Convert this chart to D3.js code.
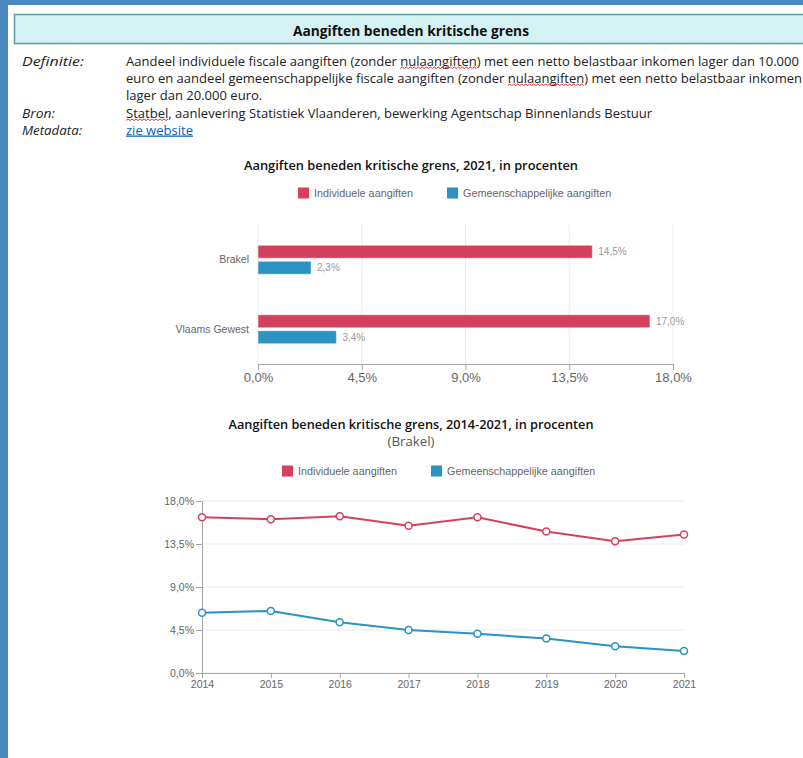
<!DOCTYPE html>
<html>
<head>
<meta charset="utf-8">
<script src="https://cdn.jsdelivr.net/npm/d3@7"></script>
<style>
html,body{margin:0;padding:0;background:#fff;}
svg{display:block;}
</style>
</head>
<body>
<svg id="chart" width="803" height="758"></svg>
<script>
// ---------- data ----------
const seriesNames = ["Individuele aangiften", "Gemeenschappelijke aangiften"];
const seriesColors = ["#d6405f", "#2b92c1"];

const barCategories = ["Brakel", "Vlaams Gewest"];
const barIndividuele = [14.5, 17.0];
const barGemeenschappelijk = [2.3, 3.4];
const barTicks = [0, 4.5, 9, 13.5, 18];

const years = [2014, 2015, 2016, 2017, 2018, 2019, 2020, 2021];
const lineIndividuele = [16.3, 16.1, 16.4, 15.4, 16.3, 14.8, 13.8, 14.5];
const lineGemeenschappelijk = [6.3, 6.5, 5.3, 4.5, 4.1, 3.6, 2.8, 2.3];
const lineTicks = [0, 4.5, 9, 13.5, 18];

const pageTitle = "Aangiften beneden kritische grens";
const barTitle = "Aangiften beneden kritische grens, 2021, in procenten";
const lineTitle = "Aangiften beneden kritische grens, 2014-2021, in procenten";
const lineSubtitle = "(Brakel)";
const metaLabels = ["Definitie:", "", "", "Bron:", "Metadata:"];
const metaTexts = [
  "Aandeel individuele fiscale aangiften (zonder nulaangiften) met een netto belastbaar inkomen lager dan 10.000",
  "euro en aandeel gemeenschappelijke fiscale aangiften (zonder nulaangiften) met een netto belastbaar inkomen",
  "lager dan 20.000 euro.",
  "Statbel, aanlevering Statistiek Vlaanderen, bewerking Agentschap Binnenlands Bestuur",
  "zie website"
];
const misspelled = ["nulaangiften", "Statbel"];

const fmt = d => d.toFixed(1).replace(".", ",") + "%";

// ---------- page ----------
const svg = d3.select("#chart");
const hdrFont = "'Open Sans', 'Noto Sans', sans-serif";
const chartFont = "'Liberation Sans', Arial, sans-serif";

svg.append("rect").attr("x", 0).attr("y", 0).attr("width", 803).attr("height", 758).attr("fill", "#4a89c0");
svg.append("rect").attr("x", 8).attr("y", 5).attr("width", 800).attr("height", 760).attr("fill", "#fff");

svg.append("rect").attr("x", 14.5).attr("y", 14.5).attr("width", 800).attr("height", 29)
  .attr("fill", "#d4f1f3").attr("stroke", "#5a9e9b").attr("stroke-width", 1.5);
svg.append("text").attr("x", 411).attr("y", 35.5).attr("text-anchor", "middle")
  .attr("font-family", hdrFont).attr("font-weight", 700).attr("font-size", 14)
  .attr("textLength", 236).attr("lengthAdjust", "spacingAndGlyphs")
  .attr("fill", "#111").text(pageTitle);

// meta block
const metaY = [65.5, 82.5, 100, 117.5, 134.5];
const labelW = {"Definitie:": 62, "Bron:": 33, "Metadata:": 60};
// horizontal condensation ratio derived from first line's target width (674px)
const probe = svg.append("text").attr("font-family", hdrFont).attr("font-size", 12.5).text(metaTexts[0]);
const ratio = 673 / probe.node().getComputedTextLength();
probe.remove();

metaLabels.forEach((l, i) => {
  if (!l) return;
  svg.append("text").attr("x", 22).attr("y", metaY[i])
    .attr("font-family", hdrFont).attr("font-style", "italic").attr("font-size", 12.5)
    .attr("textLength", labelW[l]).attr("lengthAdjust", "spacingAndGlyphs")
    .attr("fill", "#222").text(l);
});
metaTexts.forEach((t, i) => {
  const isLink = i === 4;
  const el = svg.append("text").attr("x", 126).attr("y", metaY[i])
    .attr("font-family", hdrFont).attr("font-size", 12.5)
    .attr("fill", isLink ? "#0563c1" : "#222")
    .attr("text-decoration", isLink ? "underline" : null)
    .text(t);
  el.attr("textLength", el.node().getComputedTextLength() * ratio).attr("lengthAdjust", "spacingAndGlyphs");
  // red wavy spell-check underline
  misspelled.forEach(w => {
    let idx = t.indexOf(w);
    while (idx >= 0) {
      const node = el.node();
      try {
        const x0 = node.getStartPositionOfChar(idx).x;
        const x1 = node.getEndPositionOfChar(idx + w.length - 1).x;
        let p = "M" + x0 + "," + (metaY[i] + 3);
        let up = true;
        for (let x = x0 + 2; x <= x1; x += 2) { p += "L" + x + "," + (metaY[i] + (up ? 1.5 : 3)); up = !up; }
        svg.append("path").attr("d", p).attr("fill", "none").attr("stroke", "#e02020").attr("stroke-width", 0.9);
      } catch (e) {}
      idx = t.indexOf(w, idx + 1);
    }
  });
});

// ---------- legend helper ----------
function legend(x0, x1, y) {
  [x0, x1].forEach((x, i) => {
    svg.append("rect").attr("x", x).attr("y", y - 5.5).attr("width", 11).attr("height", 11)
      .attr("fill", seriesColors[i]);
    svg.append("text").attr("x", x + 16).attr("y", y).attr("dy", "0.35em")
      .attr("font-family", chartFont).attr("font-size", 10.8).attr("fill", "#666")
      .text(seriesNames[i]);
  });
}

// ---------- bar chart ----------
svg.append("text").attr("x", 411).attr("y", 169.5).attr("text-anchor", "middle")
  .attr("font-family", hdrFont).attr("font-weight", 600).attr("font-size", 13)
  .attr("textLength", 334).attr("lengthAdjust", "spacingAndGlyphs")
  .attr("fill", "#111").text(barTitle);
legend(298, 447, 193);

const bx = d3.scaleLinear().domain([0, 18]).range([258, 673]);
const by = d3.scaleBand().domain(barCategories).range([225, 364]);

const bg = svg.append("g");
bg.selectAll("line.grid").data(barTicks).join("line")
  .attr("x1", d => bx(d)).attr("x2", d => bx(d)).attr("y1", 225).attr("y2", 364)
  .attr("stroke", "#ebebeb").attr("stroke-width", 1);

const bxAxis = bg.append("g").attr("transform", "translate(0,364)")
  .call(d3.axisBottom(bx).tickValues(barTicks).tickFormat(fmt).tickSize(6).tickPadding(3));
bxAxis.select(".domain").attr("stroke", "#a6a6a6");
bxAxis.selectAll(".tick line").attr("stroke", "#a6a6a6");
bxAxis.selectAll("text").attr("font-family", chartFont).attr("font-size", 13).attr("fill", "#666");

const byAxis = bg.append("g").attr("transform", "translate(258,0)")
  .call(d3.axisLeft(by).tickSize(0).tickPadding(9));
byAxis.select(".domain").remove();
byAxis.selectAll("text").attr("font-family", chartFont).attr("font-size", 10.5).attr("fill", "#666");

const barSeries = [barIndividuele, barGemeenschappelijk];
barSeries.forEach((vals, si) => {
  const off = si === 0 ? -14.5 : 1.5;
  bg.selectAll("rect.s" + si).data(vals).join("rect")
    .attr("x", bx(0)).attr("y", (d, i) => by(barCategories[i]) + by.bandwidth() / 2 + off)
    .attr("width", d => bx(d) - bx(0)).attr("height", 13)
    .attr("fill", seriesColors[si]).attr("stroke", "#fff").attr("stroke-opacity", 0.5).attr("stroke-width", 1);
  bg.selectAll("text.v" + si).data(vals).join("text")
    .attr("x", d => bx(d) + 6)
    .attr("y", (d, i) => by(barCategories[i]) + by.bandwidth() / 2 + off + 6.5)
    .attr("dy", "0.35em")
    .attr("font-family", chartFont).attr("font-size", 10).attr("fill", "#999")
    .text(fmt);
});

// ---------- line chart ----------
svg.append("text").attr("x", 411).attr("y", 428.5).attr("text-anchor", "middle")
  .attr("font-family", hdrFont).attr("font-weight", 600).attr("font-size", 13)
  .attr("textLength", 365).attr("lengthAdjust", "spacingAndGlyphs")
  .attr("fill", "#111").text(lineTitle);
svg.append("text").attr("x", 411).attr("y", 445.5).attr("text-anchor", "middle")
  .attr("font-family", hdrFont).attr("font-size", 12)
  .attr("textLength", 47).attr("lengthAdjust", "spacingAndGlyphs")
  .attr("fill", "#555").text(lineSubtitle);
legend(282, 431, 471);

const lx = d3.scalePoint().domain(years).range([202, 684]);
const ly = d3.scaleLinear().domain([0, 18]).range([673, 501]);
const lg = svg.append("g");

lg.selectAll("line.grid").data(lineTicks).join("line")
  .attr("x1", 202).attr("x2", 684).attr("y1", d => ly(d)).attr("y2", d => ly(d))
  .attr("stroke", "#ececec").attr("stroke-width", 1);

const lyAxis = lg.append("g").attr("transform", "translate(202,0)")
  .call(d3.axisLeft(ly).tickValues(lineTicks).tickFormat(fmt).tickSize(6).tickPadding(2).tickSizeOuter(0));
lyAxis.select(".domain").attr("stroke", "#a6a6a6");
lyAxis.selectAll(".tick line").attr("stroke", "#a6a6a6");
lyAxis.selectAll("text").attr("font-family", chartFont).attr("font-size", 10.5).attr("fill", "#666");

const lxAxis = lg.append("g").attr("transform", "translate(0,673)")
  .call(d3.axisBottom(lx).tickSize(5).tickPadding(3).tickSizeOuter(0));
lxAxis.select(".domain").attr("stroke", "#a6a6a6");
lxAxis.selectAll(".tick line").attr("stroke", "#a6a6a6");
lxAxis.selectAll("text").attr("font-family", chartFont).attr("font-size", 10.5).attr("fill", "#666");

const lineSeries = [lineIndividuele, lineGemeenschappelijk];
const lineGen = d3.line().x((d, i) => lx(years[i])).y(d => ly(d));
lineSeries.forEach((vals, si) => {
  lg.append("path").datum(vals).attr("d", lineGen)
    .attr("fill", "none").attr("stroke", seriesColors[si]).attr("stroke-width", 2);
  lg.selectAll("circle.s" + si).data(vals).join("circle")
    .attr("cx", (d, i) => lx(years[i])).attr("cy", d => ly(d)).attr("r", 3.5)
    .attr("fill", "#fff").attr("stroke", seriesColors[si]).attr("stroke-width", 1.5);
});
</script>
</body>
</html>
